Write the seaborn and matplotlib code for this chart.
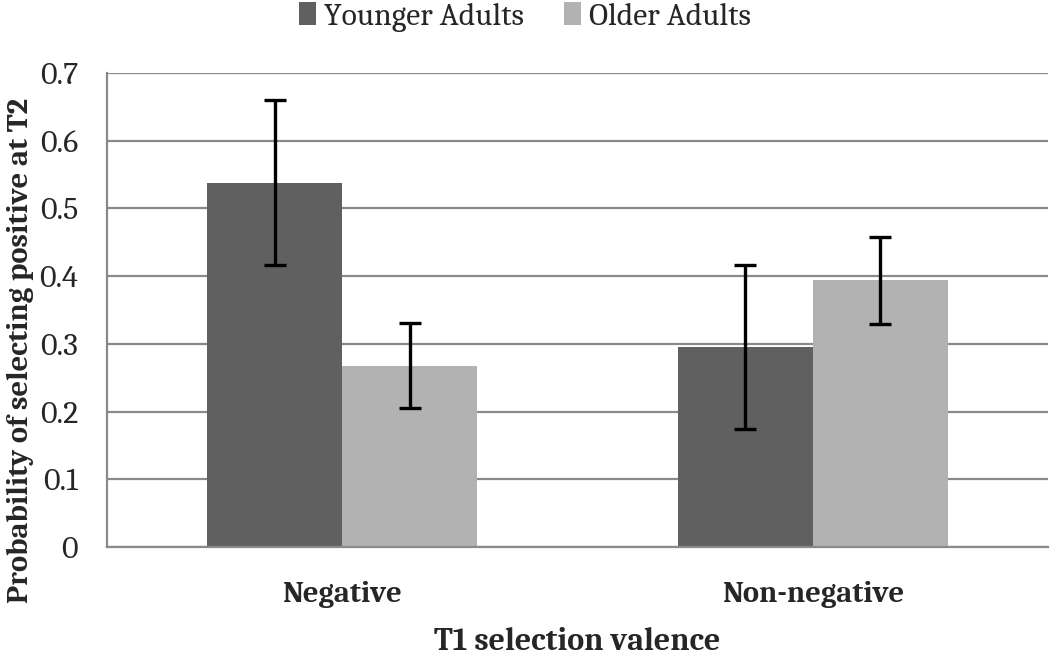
import matplotlib
matplotlib.use("Agg")
import matplotlib.pyplot as plt
import pandas as pd
import seaborn as sns

# values
valence = ["Negative", "Non-negative"]
groups = ["Younger Adults", "Older Adults"]
younger_mean = [0.538, 0.295]
older_mean = [0.268, 0.394]
younger_err = [0.122, 0.121]
older_err = [0.063, 0.064]

df = pd.DataFrame({
    "valence": valence * 2,
    "group": [groups[0]] * 2 + [groups[1]] * 2,
    "prob": younger_mean + older_mean,
    "err": younger_err + older_err,
})

sns.set_theme(style="white")
plt.rcParams['font.family'] = ['Caladea', 'Liberation Serif', 'DejaVu Serif']

fig = plt.figure(figsize=(10.5, 6.57), dpi=100)
ax = fig.add_axes([0.102, 0.1674, 0.896, 0.7216])

sns.barplot(data=df, x="valence", y="prob", hue="group", order=valence, hue_order=groups,
            palette=["#606060", "#b2b2b2"], width=0.574, saturation=1, errorbar=None,
            edgecolor="none", linewidth=0, ax=ax, zorder=2)

# error bars centred on each bar
for patch_group, g in zip(ax.containers, groups):
    sub = df[df.group == g].set_index("valence").loc[valence]
    xs = [p.get_x() + p.get_width() / 2 for p in patch_group]
    ax.errorbar(xs, sub["prob"], yerr=sub["err"], fmt="none", ecolor="black",
                elinewidth=2.4, capsize=8, capthick=2.4, zorder=3)

ax.set_ylim(0, 0.7)
ax.set_xlim(-0.5, 1.5)
ax.set_yticks([0, 0.1, 0.2, 0.3, 0.4, 0.5, 0.6, 0.7])
ax.set_yticklabels(["0", "0.1", "0.2", "0.3", "0.4", "0.5", "0.6", "0.7"], fontsize=23)
ax.yaxis.grid(True, color="#8a8a8a", linewidth=1.6, zorder=0)
ax.set_axisbelow(True)

for s in ["top", "right"]:
    ax.spines[s].set_visible(False)
for s in ["left", "bottom"]:
    ax.spines[s].set_color("#8a8a8a")
    ax.spines[s].set_linewidth(1.6)

ax.tick_params(axis="y", direction="out", length=10, width=1.6, color="#8a8a8a", pad=11)
ax.set_xticks([0, 1])
ax.set_xticklabels(valence, fontsize=22, fontweight="bold")
ax.tick_params(axis="x", length=0, pad=24)
ax.set_xticks([-0.5, 0.5, 1.5], minor=True)
ax.tick_params(axis="x", which="minor", direction="out", length=10, width=1.6, color="#8a8a8a")

ax.set_xlabel("T1 selection valence", fontsize=23, fontweight="bold", labelpad=14)
ax.set_ylabel("Probability of selecting positive at T2", fontsize=22, fontweight="bold")
ax.yaxis.set_label_coords(-0.078, 0.415)

handles, labels = ax.get_legend_handles_labels()
ax.legend_.remove()
fig.legend(handles, labels, loc="upper center", bbox_to_anchor=(0.5, 1.04), ncol=2, frameon=False,
           fontsize=22.75, handlelength=0.55, handleheight=0.75, handletextpad=0.25,
           columnspacing=1.25)

fig.savefig("out.png", dpi=100)
